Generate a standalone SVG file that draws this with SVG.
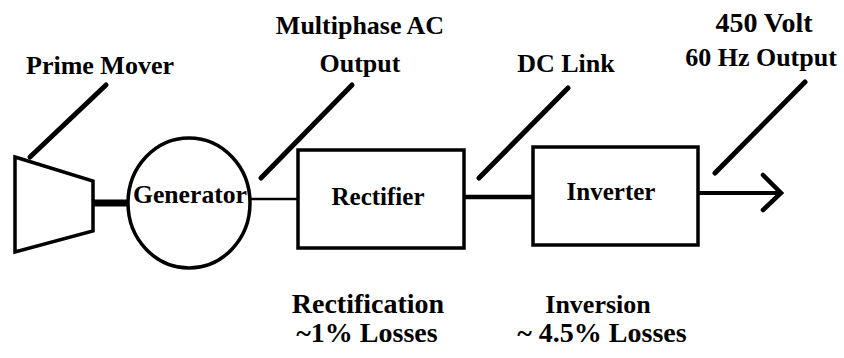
<svg xmlns="http://www.w3.org/2000/svg" width="844" height="358" viewBox="0 0 844 358">
<style>
text{font-family:"Liberation Serif","Times New Roman",serif;font-weight:bold;fill:#000;text-anchor:middle}
.lbl{font-size:26px}
.big{font-size:28px}
.in{font-size:25px}
.shape{fill:#fff;stroke:#000;stroke-width:3.5}
.lead{stroke:#000;stroke-width:5;stroke-linecap:round;fill:none}
.wire{stroke:#000;fill:none}
</style>
<rect width="844" height="358" fill="#fff"/>
<g id="connectors">
<line class="wire" x1="93" y1="203" x2="129" y2="203" stroke-width="7"/>
<line class="wire" x1="250" y1="199" x2="298" y2="199" stroke-width="2.5"/>
<line class="wire" x1="464" y1="197" x2="533" y2="197" stroke-width="4.5"/>
<line class="wire" x1="698" y1="193" x2="780" y2="193" stroke-width="4"/>
<polyline class="wire" points="763,175 781,193 763,210" stroke-width="4.5" stroke-linecap="round" stroke-linejoin="miter"/>
<line class="lead" x1="106" y1="85" x2="30" y2="157"/>
<line class="lead" x1="352" y1="85" x2="261" y2="178"/>
<line class="lead" x1="568" y1="88" x2="479" y2="178"/>
<line class="lead" x1="805" y1="82" x2="715" y2="173"/>
</g>
<g id="prime-mover">
<polygon class="shape" points="15,157 93,181 93,231 15,252"/>
<text class="lbl" x="100" y="74">Prime Mover</text>
</g>
<g id="generator">
<ellipse class="shape" cx="189" cy="203" rx="61" ry="65"/>
<text class="lbl" x="190" y="203" textLength="114" lengthAdjust="spacingAndGlyphs">Generator</text>
</g>
<g id="ac-output">
<text class="lbl" x="360" y="34">Multiphase AC</text>
<text class="lbl" x="360" y="72">Output</text>
</g>
<g id="rectifier">
<rect class="shape" x="298" y="150" width="166" height="98"/>
<text class="in" x="378" y="205">Rectifier</text>
</g>
<g id="dc-link">
<text class="lbl" x="566" y="72">DC Link</text>
</g>
<g id="inverter">
<rect class="shape" x="533" y="147" width="165" height="98"/>
<text class="in" x="611" y="200">Inverter</text>
</g>
<g id="output">
<text class="lbl" x="764" y="32" style="font-size:28px">450 Volt</text>
<text class="lbl" x="761" y="66">60 Hz Output</text>
</g>
<g id="rectification">
<text class="big" x="368" y="313">Rectification</text>
<text class="big" x="367" y="342">~1% Losses</text>
</g>
<g id="inversion">
<text class="big" x="598" y="313" style="font-size:26px">Inversion</text>
<text class="big" x="602" y="342">~ 4.5% Losses</text>
</g>
</svg>
